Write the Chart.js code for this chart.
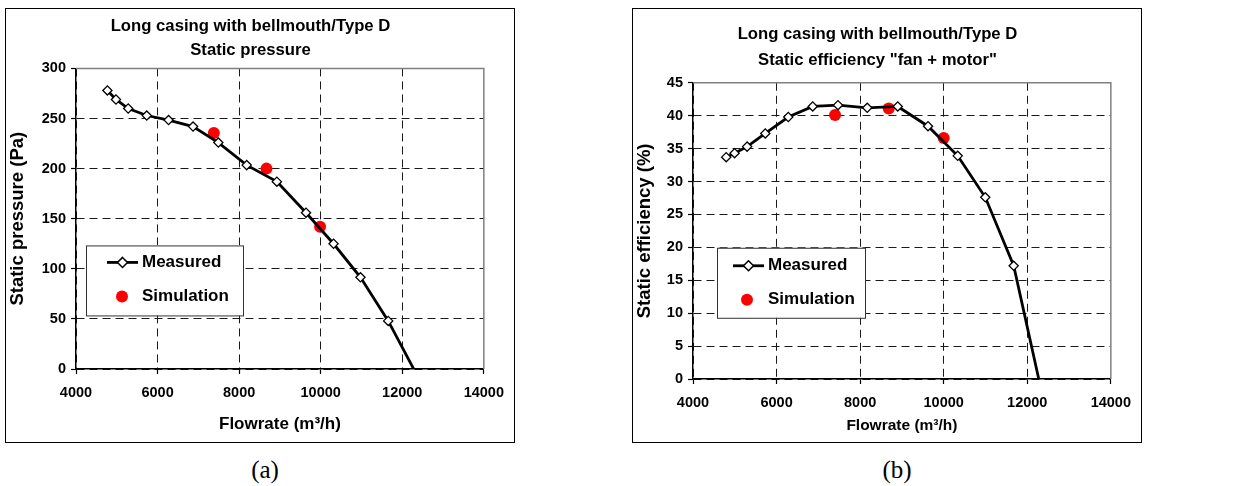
<!DOCTYPE html>
<html>
<head>
<meta charset="utf-8">
<script src="https://cdn.jsdelivr.net/npm/chart.js@4/dist/chart.umd.min.js"></script>
<style>
  body { margin: 0; background: #fff; }
  #page { position: relative; width: 1242px; height: 486px; overflow: hidden; }
  .panel { position: absolute; top: 8px; width: 510px; height: 435px; border: 1px solid #000; box-sizing: border-box; }
  .panel canvas { display: block; }
  .cap { position: absolute; top: 456px; width: 60px; margin-left: -30px; text-align: center;
         font-family: "Liberation Serif", "Times New Roman", serif; font-size: 25px; }
</style>
</head>
<body>
<div id="page">
  <div class="panel" style="left:5px"><canvas id="pressureChart" width="508" height="433"></canvas></div>
  <div class="panel" style="left:632px"><canvas id="efficiencyChart" width="508" height="433"></canvas></div>
  <div class="cap" style="left:265px">(a)</div>
  <div class="cap" style="left:897px">(b)</div>
</div>
<script>
// (a) static pressure
const flowMeasuredA = [4770, 4980, 5280, 5735, 6270, 6870, 7490, 8185, 8925, 9640, 10315, 10975, 11655, 12345]
const pressureMeasured = [278, 269, 260, 253, 248.5, 242, 226, 203.5, 187, 156, 125, 91.5, 48, -5]
const flowSimA = [7380, 8670, 9985]
const pressureSim = [235.5, 200, 142]

// (b) static efficiency
const flowMeasuredB = [4795, 4995, 5295, 5730, 6280, 6865, 7470, 8170, 8900, 9625, 10335, 10995, 11675, 12310]
const efficiencyMeasured = [33.7, 34.3, 35.3, 37.3, 39.8, 41.4, 41.6, 41.2, 41.4, 38.4, 33.9, 27.6, 17.2, -1]
const flowSimB = [7400, 8685, 10000]
const efficiencySim = [40.1, 41.1, 36.6]

const seriesNames = ['Measured', 'Simulation']
const flowTicks = { min: 4000, max: 14000, step: 2000 }

Chart.defaults.font.family = '"Liberation Sans", Arial, sans-serif'
Chart.defaults.color = '#000'

const toPoints = (xs, ys) => xs.map((x, i) => ({ x, y: ys[i] }))

// legend box drawn inside the plot, like the excel one
const insetLegend = {
  id: 'insetLegend',
  afterDraw(chart) {
    const o = chart.options.plugins.insetLegend
    if (!o) return
    const ctx = chart.ctx
    const a = chart.chartArea
    const bx = a.left + o.dx, by = a.top + o.dy
    ctx.save()
    ctx.fillStyle = '#fff'
    ctx.fillRect(bx, by, o.w, o.h)
    ctx.strokeStyle = '#333'
    ctx.lineWidth = 1
    ctx.strokeRect(bx + 0.5, by + 0.5, o.w, o.h)

    // measured: line + diamond
    const ly = by + o.row1
    ctx.strokeStyle = '#000'
    ctx.lineWidth = 2.8
    ctx.beginPath()
    ctx.moveTo(bx + o.lineX0, ly)
    ctx.lineTo(bx + o.lineX1, ly)
    ctx.stroke()
    const cx = bx + (o.lineX0 + o.lineX1) / 2
    ctx.beginPath()
    ctx.moveTo(cx, ly - 5); ctx.lineTo(cx + 5, ly); ctx.lineTo(cx, ly + 5); ctx.lineTo(cx - 5, ly); ctx.closePath()
    ctx.fillStyle = '#fff'
    ctx.fill()
    ctx.lineWidth = 1.5
    ctx.stroke()

    // simulation: red dot
    const sy = by + o.row2
    ctx.fillStyle = '#ff0000'
    ctx.beginPath()
    ctx.arc(bx + o.dotX, sy, 6, 0, Math.PI * 2)
    ctx.fill()

    ctx.fillStyle = '#000'
    ctx.font = 'bold 17px "Liberation Sans", Arial, sans-serif'
    ctx.textBaseline = 'middle'
    ctx.textAlign = 'left'
    ctx.fillText(seriesNames[0], bx + o.textX, ly)
    ctx.fillText(seriesNames[1], bx + o.textX, sy)
    ctx.restore()
  }
}

// grey frame on top and right of the plot area
const plotFrame = {
  id: 'plotFrame',
  beforeDatasetsDraw(chart) {
    const a = chart.chartArea
    const ctx = chart.ctx
    ctx.save()
    ctx.strokeStyle = '#808080'
    ctx.lineWidth = 1.5
    ctx.beginPath()
    ctx.moveTo(a.left, a.top)
    ctx.lineTo(a.right, a.top)
    ctx.lineTo(a.right, a.bottom)
    ctx.stroke()
    ctx.restore()
  }
}

const makeChart = (id, cfg) => {
  const lastIdx = cfg.measuredX.length - 1
  const data = {
    datasets: [{
      label: seriesNames[0],
      data: toPoints(cfg.measuredX, cfg.measuredY),
      showLine: true,
      tension: 0,
      borderColor: '#000',
      borderWidth: 2.8,
      pointStyle: 'rectRot',
      pointRadius: c => c.dataIndex === lastIdx ? 0 : 4.6,
      pointBackgroundColor: '#fff',
      pointBorderColor: '#000',
      pointBorderWidth: 1.3
    }, {
      label: seriesNames[1],
      data: toPoints(cfg.simX, cfg.simY),
      pointStyle: 'circle',
      pointRadius: 6,
      pointBorderWidth: 0,
      backgroundColor: '#ff0000',
      borderColor: '#ff0000'
    }]
  }

  const gridFor = max => ({
    color: c => (c.tick && c.tick.value === max) ? 'rgba(0,0,0,0)' : '#1a1a1a',
    lineWidth: 1,
    tickColor: '#000',
    tickLength: 5,
    tickWidth: 1.2,
    tickBorderDash: []
  })

  const tickFont = { size: 14.5, weight: 'bold' }

  const options = {
    animation: false,
    responsive: false,
    layout: { padding: { left: 0, right: cfg.padRight, top: 0, bottom: 0 } },
    plugins: {
      legend: { display: false },
      tooltip: { enabled: false },
      title: {
        display: true,
        text: cfg.title,
        font: { size: 16.7, weight: 'bold', lineHeight: cfg.titleLH },
        padding: cfg.titlePad,
        color: '#000'
      },
      insetLegend: cfg.legend
    },
    scales: {
      x: {
        type: 'linear',
        min: flowTicks.min,
        max: flowTicks.max,
        ticks: { stepSize: flowTicks.step, font: tickFont, padding: cfg.xTickPad, maxRotation: 0, color: '#000', callback: v => String(v) },
        grid: gridFor(flowTicks.max),
        border: { color: '#000', width: 1.5, dash: [8, 5] },
        title: { display: true, text: 'Flowrate (m³/h)', font: { size: cfg.xTitleSize, weight: 'bold', lineHeight: 1.2 }, padding: { top: 0, bottom: 7 }, color: '#000' },
        afterFit: s => { s.height = cfg.xHeight }
      },
      y: {
        min: cfg.yMin,
        max: cfg.yMax,
        ticks: { stepSize: cfg.yStep, font: tickFont, padding: 5, color: '#000', callback: v => String(v) },
        grid: gridFor(cfg.yMax),
        border: { color: '#000', width: 1.5, dash: [8, 5] },
        title: { display: true, text: cfg.yTitle, font: { size: 18.5, weight: 'bold', lineHeight: 1.2 }, padding: { top: 1, bottom: 0 }, color: '#000' },
        afterFit: s => { s.width = cfg.yWidth }
      }
    }
  }

  new Chart(id, { type: 'scatter', data, options, plugins: [plotFrame, insetLegend] })
}

makeChart('pressureChart', {
  measuredX: flowMeasuredA, measuredY: pressureMeasured,
  simX: flowSimA, simY: pressureSim,
  title: ['Long casing with bellmouth/Type D', 'Static pressure'],
  titleLH: 1.45, titlePad: { top: 5.5, bottom: 5.5 },
  yTitle: 'Static pressure (Pa)', yMin: 0, yMax: 300, yStep: 50,
  yWidth: 70, xHeight: 73, xTickPad: 10, xTitleSize: 17, padRight: 19,
  legend: { dx: 10, dy: 177, w: 157, h: 70, row1: 17, row2: 51, lineX0: 21, lineX1: 52, dotX: 36, textX: 56 }
})

makeChart('efficiencyChart', {
  measuredX: flowMeasuredB, measuredY: efficiencyMeasured,
  simX: flowSimB, simY: efficiencySim,
  title: ['Long casing with bellmouth/Type D', 'Static efficiency "fan + motor"'],
  titleLH: 1.55, titlePad: { top: 12.5, bottom: 9.5 },
  yTitle: 'Static efficiency (%)', yMin: 0, yMax: 45, yStep: 5,
  yWidth: 60, xHeight: 63, xTickPad: 10, xTitleSize: 15.5, padRight: 19,
  legend: { dx: 24, dy: 165, w: 148, h: 70, row1: 18, row2: 52, lineX0: 16, lineX1: 47, dotX: 30, textX: 51 }
})
</script>
</body>
</html>
